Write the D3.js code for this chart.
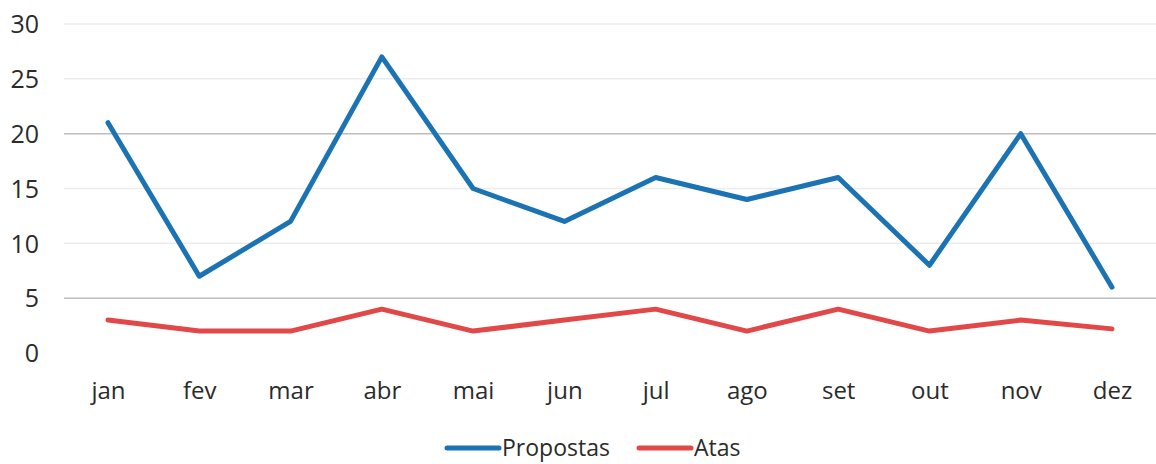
<!DOCTYPE html>
<html>
<head>
<meta charset="utf-8">
<script src="https://cdn.jsdelivr.net/npm/d3@7"></script>
<style>
  body { margin: 0; background: #fff; }
  text { font-family: "Open Sans", "Noto Sans", sans-serif; fill: #2b2b2b; }
</style>
</head>
<body>
<svg id="chart"></svg>
<script>
// dados do gráfico
const months = ['jan', 'fev', 'mar', 'abr', 'mai', 'jun', 'jul', 'ago', 'set', 'out', 'nov', 'dez'];
const propostas = [21, 7, 12, 27, 15, 12, 16, 14, 16, 8, 20, 6];
const atas = [3, 2, 2, 4, 2, 3, 4, 2, 4, 2, 3, 2.2];
const yTicks = [0, 5, 10, 15, 20, 25, 30];

const width = 1156, height = 464;
const svg = d3.select('#chart').attr('width', width).attr('height', height);

const x = d3.scalePoint().domain(months).range([108, 1112]);
const y = d3.scaleLinear().domain([0, 30]).range([353, 24]);

// linhas de grade
svg.append('g')
  .selectAll('line')
  .data(yTicks.filter(d => d > 0))
  .enter()
  .append('line')
  .attr('x1', 64)
  .attr('x2', width)
  .attr('y1', d => y(d))
  .attr('y2', d => y(d))
  .style('stroke', d => (d === 5 || d === 20) ? '#bdbdbd' : '#ececec')
  .style('stroke-width', 1.5);

// eixo y
const yAxis = svg.append('g')
  .attr('transform', 'translate(39,0)')
  .call(d3.axisLeft(y).tickValues(yTicks).tickSize(0).tickPadding(0));
yAxis.select('.domain').remove();
yAxis.selectAll('text')
  .style('font-size', '25px')
  .attr('dy', '0.35em')
  .style('fill', '#2b2b2b');

// eixo x
const xAxis = svg.append('g')
  .attr('transform', 'translate(0,380)')
  .call(d3.axisBottom(x).tickSize(0).tickPadding(0));
xAxis.select('.domain').remove();
xAxis.selectAll('text')
  .style('font-size', '24px')
  .attr('dy', '0.8em')
  .style('fill', '#2b2b2b');

const line = d3.line()
  .x((d, i) => x(months[i]))
  .y(d => y(d));

const series = [
  { name: 'Propostas', values: propostas, color: '#1b73b3' },
  { name: 'Atas', values: atas, color: '#e24848' }
];

svg.selectAll('.serie')
  .data(series)
  .enter()
  .append('path')
  .attr('class', 'serie')
  .attr('d', d => line(d.values))
  .style('fill', 'none')
  .style('stroke', d => d.color)
  .style('stroke-width', 5)
  .style('stroke-linejoin', 'round')
  .style('stroke-linecap', 'round');

// legenda
const legend = svg.append('g').attr('transform', 'translate(0,448)');
const legX = [447, 639];
const item = legend.selectAll('g')
  .data(series)
  .enter()
  .append('g')
  .attr('transform', (d, i) => `translate(${legX[i]},0)`);
item.append('line')
  .attr('x1', 0).attr('x2', 52)
  .style('stroke', d => d.color)
  .style('stroke-width', 5)
  .style('stroke-linecap', 'round');
item.append('text')
  .attr('x', 55)
  .attr('dy', '0.35em')
  .style('font-size', '23px')
  .text(d => d.name);
</script>
</body>
</html>
